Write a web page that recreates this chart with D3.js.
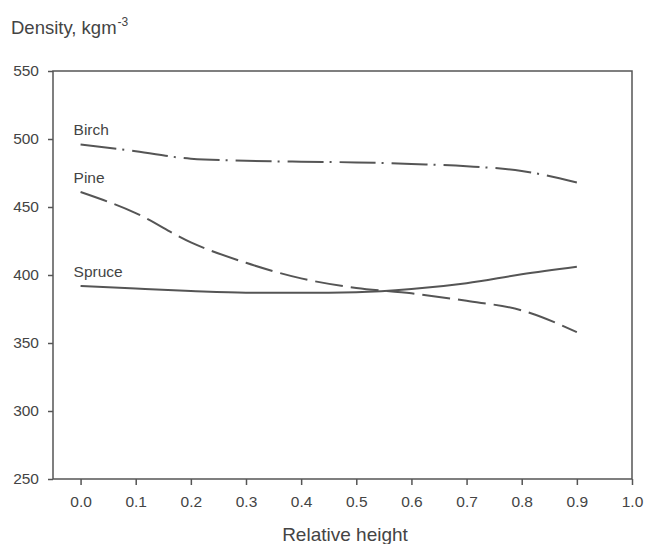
<!DOCTYPE html>
<html>
<head>
<meta charset="utf-8">
<script src="https://cdn.jsdelivr.net/npm/d3@7"></script>
<style>
  body { margin: 0; background: #fff; }
  svg { display: block; font-family: "Liberation Sans", Arial, sans-serif; }
</style>
</head>
<body>
<svg width="646" height="544"></svg>
<script>
const heights = [0.0, 0.1, 0.2, 0.3, 0.4, 0.5, 0.6, 0.7, 0.8, 0.9]
const birch  = [496, 491, 485.5, 484, 483.3, 482.8, 481.6, 480, 476.5, 468]
const pine   = [461, 445.5, 424, 409, 397.5, 390.5, 386.5, 381, 374, 358]
const spruce = [392, 390, 388.2, 387, 387, 387.4, 389.7, 394, 400.5, 406]
const xTicks = [0, 0.1, 0.2, 0.3, 0.4, 0.5, 0.6, 0.7, 0.8, 0.9, 1.0]
const yTicks = [250, 300, 350, 400, 450, 500, 550]

const series = [
    {name: "Birch", values: birch, dash: "36,6,2,8"},
    {name: "Pine", values: pine, dash: "28,8"},
    {name: "Spruce", values: spruce, dash: null}
]

const svg = d3.select("svg")
const plotL = 53, plotR = 632, plotT = 71, plotB = 479
const ink = "#555"
const fontFam = "\"Liberation Sans\", Arial, sans-serif"

const x = d3.scaleLinear().domain([-0.05, 1.0]).range([plotL, plotR])
const y = d3.scaleLinear().domain([250, 550]).range([plotB, plotT])

// frame
svg.append("rect")
    .attr("x", plotL).attr("y", plotT)
    .attr("width", plotR - plotL).attr("height", plotB - plotT)
    .attr("fill", "none").attr("stroke", ink).attr("stroke-width", 1.5)

// axes
const xAxis = svg.append("g")
    .attr("transform", `translate(0,${plotB})`)
    .call(d3.axisBottom(x).tickValues(xTicks).tickFormat(d3.format(".1f")).tickSize(6).tickPadding(11))
const yAxis = svg.append("g")
    .attr("transform", `translate(${plotL},0)`)
    .call(d3.axisLeft(y).tickValues(yTicks).tickSize(5).tickPadding(9))

for (const g of [xAxis, yAxis]) {
    g.select(".domain").remove()
    g.selectAll("line").attr("stroke", ink).attr("stroke-width", 1.5)
    g.selectAll("text").attr("fill", "#444").style("font-size", "15.5px")
        .style("font-family", fontFam)
}

// lines
const line = d3.line()
    .x((d, i) => x(heights[i]))
    .y(d => y(d))
    .curve(d3.curveMonotoneX)

svg.append("g").selectAll("path")
    .data(series)
    .join("path")
    .attr("d", s => line(s.values))
    .attr("fill", "none")
    .attr("stroke", ink)
    .attr("stroke-width", 2)
    .attr("stroke-dasharray", s => s.dash)

// series labels
svg.append("g").selectAll("text")
    .data(series)
    .join("text")
    .attr("x", x(0) - 7)
    .attr("y", s => y(s.values[0]) - 9)
    .attr("fill", "#444")
    .style("font-size", "15.5px")
    .text(s => s.name)

// axis titles
svg.append("text")
    .attr("x", 345)
    .attr("y", 541)
    .attr("text-anchor", "middle")
    .attr("fill", "#444")
    .style("font-size", "19px")
    .text("Relative height")

const yt = svg.append("text")
    .attr("x", 11)
    .attr("y", 34)
    .attr("fill", "#444")
    .style("font-size", "18.5px")
yt.append("tspan").text("Density, kgm")
yt.append("tspan").attr("dy", -8).attr("dx", 1).style("font-size", "12px").text("-3")
</script>
</body>
</html>
